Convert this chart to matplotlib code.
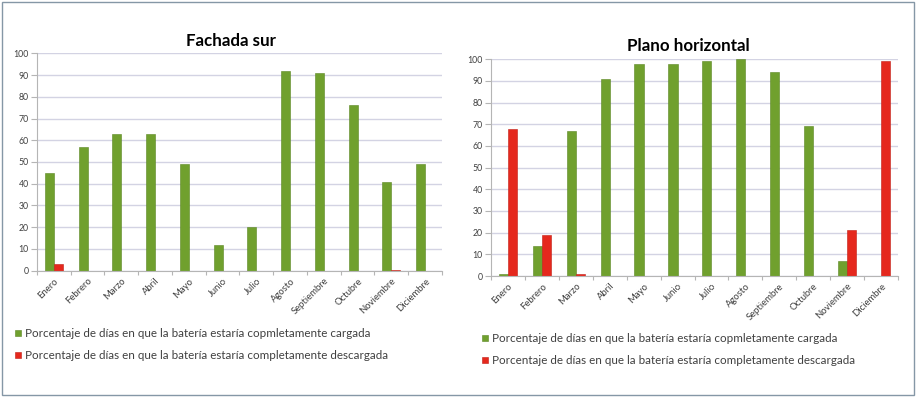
import matplotlib
matplotlib.use("Agg")
import matplotlib.pyplot as plt
import numpy as np
from matplotlib.patches import Rectangle

months = ["Enero", "Febrero", "Marzo", "Abril", "Mayo", "Junio", "Julio",
          "Agosto", "Septiembre", "Octubre", "Noviembre", "Diciembre"]
series_names = ["Porcentaje de días en que la batería estaría copmletamente cargada",
                "Porcentaje de días en que la batería estaría completamente descargada"]
titles = ["Fachada sur", "Plano horizontal"]

fachada_cargada = [45, 57, 63, 63, 49, 12, 20, 92, 91, 76, 41, 49]
fachada_descargada = [3, 0, 0, 0, 0, 0, 0, 0, 0, 0, 0.5, 0]
plano_cargada = [1, 14, 67, 91, 98, 98, 99, 100, 94, 69, 7, 0]
plano_descargada = [68, 19, 1, 0, 0, 0, 0, 0, 0, 0, 21, 99]

yticks = list(range(0, 101, 10))

GREEN = "#70a02e"
RED = "#e5281d"
GRID = "#d3d3e3"
AXIS = "#b5b5b5"
TXT = "#404040"

plt.rcParams['font.family'] = ['Lato', 'DejaVu Sans']

fig = plt.figure(figsize=(9.17, 3.98), dpi=100)
fig.patch.set_facecolor("white")

# outer frame
fig.add_artist(Rectangle((2/917, 3/398), 912/917, 393/398, transform=fig.transFigure,
                         fill=False, edgecolor="#8597a6", linewidth=1.0))

positions = [
    [37/917, 127.3/398, 405/917, 217.4/398],
    [491/917, 122/398, 407/917, 216.7/398],
]
datasets = [(fachada_cargada, fachada_descargada), (plano_cargada, plano_descargada)]
title_y = [40.5, 46]
title_x = [231, 688]
legend_pos = [(15, 328), (482, 333)]

x = np.arange(len(months))
w = 0.27
for i, (pos, (g, r)) in enumerate(zip(positions, datasets)):
    ax = fig.add_axes(pos)
    ax.set_axisbelow(True)
    bg = ax.bar(x - w/2, g, width=w, color=GREEN, edgecolor="#5b8622", linewidth=0.4,
                label=series_names[0])
    br = ax.bar(x + w/2, r, width=w, color=RED, edgecolor="#c21e16", linewidth=0.4,
                label=series_names[1])
    ax.set_xlim(-0.5, len(months) - 0.5)
    ax.set_ylim(0, 100)
    ax.set_yticks(yticks)
    ax.set_yticklabels([str(t) for t in yticks], fontsize=6.3, color=TXT)
    ax.yaxis.grid(True, color=GRID, linewidth=1.0)
    ax.set_xticks(x)
    ax.set_xticklabels(months, rotation=45, ha="right", va="top",
                       rotation_mode="anchor", fontsize=6.8, color=TXT)
    ax.set_xticks(np.arange(-0.5, len(months), 1), minor=True)
    ax.tick_params(axis="x", which="major", length=0, pad=4)
    ax.tick_params(axis="x", which="minor", length=3, color=AXIS, width=0.8)
    ax.tick_params(axis="y", length=4, color=AXIS, width=0.8, pad=2)
    for s in ["top", "right"]:
        ax.spines[s].set_visible(False)
    for s in ["left", "bottom"]:
        ax.spines[s].set_color(AXIS)
        ax.spines[s].set_linewidth(0.8)
    fig.text(title_x[i]/917, 1 - title_y[i]/398, titles[i], ha="center", va="center",
             fontsize=12.2, fontweight="bold", color="black")
    lx, ly = legend_pos[i]
    fig.legend(handles=[bg, br], loc="upper left",
               bbox_to_anchor=(lx/917, 1 - ly/398), bbox_transform=fig.transFigure,
               frameon=False, fontsize=8.4, handlelength=0.5, handleheight=0.5,
               handletextpad=0.35, labelspacing=0.95, borderpad=0, borderaxespad=0,
               labelcolor=TXT)

fig.savefig("out.png", dpi=100, facecolor="white")
